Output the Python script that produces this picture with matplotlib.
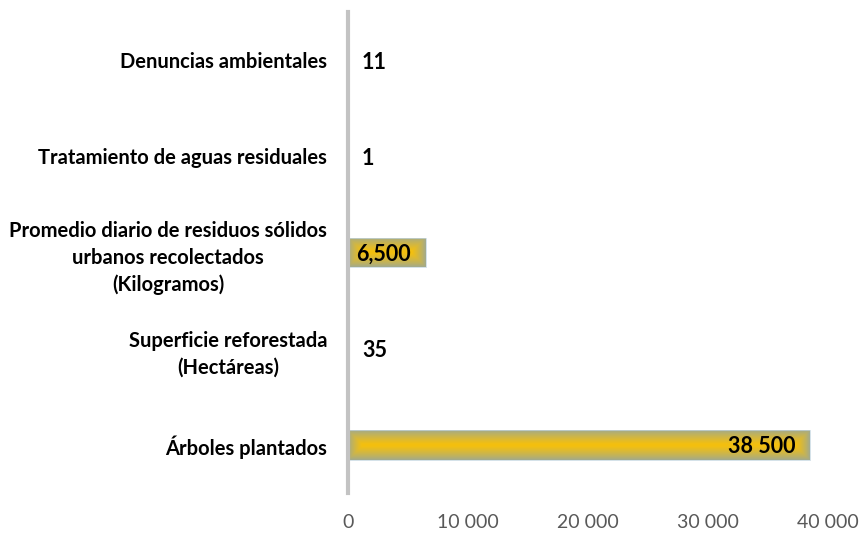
import numpy as np
import matplotlib.pyplot as plt
from matplotlib.colors import to_rgb

# Indicator data (bottom to top)
categories = [
    "Árboles plantados",
    "Superficie reforestada\n(Hectáreas)",
    "Promedio diario de residuos sólidos\nurbanos recolectados\n(Kilogramos)",
    "Tratamiento de aguas residuales",
    "Denuncias ambientales",
]
values = [38500, 35, 6500, 1, 11]
value_labels = ["38 500", "35", "6,500", "1", "11"]
x_ticks = [0, 10000, 20000, 30000, 40000]
x_tick_labels = ["0", "10 000", "20 000", "30 000", "40 000"]

FONT = "Lato"
plt.rcParams["font.family"] = [FONT, "DejaVu Sans"]

W, H = 864, 537
fig = plt.figure(figsize=(W / 100, H / 100), dpi=100)
left, right, top, bottom = 348, 828, 12, 493
ax = fig.add_axes([left / W, 1 - bottom / H, (right - left) / W, (bottom - top) / H])

ax.set_xlim(0, 40000)
ax.set_ylim(-0.5, len(categories) - 0.5)

bar_h = 0.31
px_per_x = (right - left) / 40000
px_per_y = (bottom - top) / len(categories)

edge_col = np.array(to_rgb("#9ea992"))
center_col = np.array(to_rgb("#f4c00e"))

ypos = np.arange(len(categories))
bars = ax.barh(ypos, values, height=bar_h, color="none",
               edgecolor="#c4d6e0", linewidth=0.5, zorder=3)

# Gradient fill: gold core fading to grey-olive toward the bar edges
for rect, v, y in zip(bars, values, ypos):
    wpx = max(int(round(v * px_per_x)), 1)
    hpx = int(round(bar_h * px_per_y))
    nx, ny = wpx * 2, hpx * 2
    xs = (np.arange(nx) + 0.5) / 2
    ys = (np.arange(ny) + 0.5) / 2
    X, Y = np.meshgrid(xs, ys)
    d = np.minimum.reduce([X, wpx - X, Y, hpx - Y])
    t = np.clip(d / 14.0, 0, 1) ** 0.8
    img = edge_col[None, None, :] + (center_col - edge_col)[None, None, :] * t[..., None]
    im = ax.imshow(img, extent=[0, v, y - bar_h / 2, y + bar_h / 2],
                   aspect="auto", origin="lower", zorder=2, interpolation="bilinear")
    im.set_clip_path(rect)

# Value labels
for v, lab, y in zip(values, value_labels, ypos):
    if v > 2000:
        ax.annotate(lab, (v, y), xytext=(-15, -2), textcoords="offset pixels",
                    ha="right", va="center", fontsize=15.5, fontweight="bold",
                    color="black", zorder=4)
    else:
        ax.annotate(lab, (0, y), xytext=(14, -2), textcoords="offset pixels",
                    ha="left", va="center", fontsize=15.5, fontweight="bold",
                    color="black", zorder=4)

# Axes styling
for s in ["top", "right", "bottom"]:
    ax.spines[s].set_visible(False)
ax.spines["left"].set_color("#c3c3c3")
ax.spines["left"].set_linewidth(3)
ax.spines["left"].set_zorder(5)

ax.set_yticks(ypos)
ax.set_yticklabels(categories, fontsize=14.5, fontweight="bold", color="black",
                   multialignment="center", linespacing=1.42)
ax.set_xticks(x_ticks)
ax.set_xticklabels(x_tick_labels, fontsize=14, color="#595959")
ax.tick_params(axis="y", length=0, pad=15)
ax.tick_params(axis="x", length=0, pad=15)

fig.savefig("out.png", dpi=100)
